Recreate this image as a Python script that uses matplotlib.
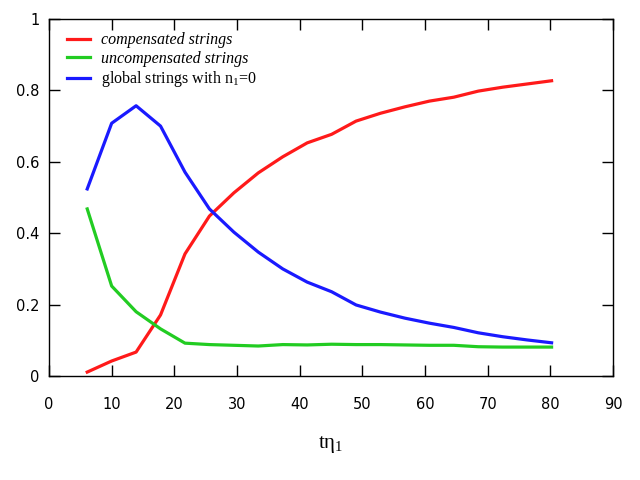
import matplotlib
matplotlib.use("Agg")
import matplotlib.pyplot as plt

# data
t_eta = [6.1, 10.0, 13.9, 17.8, 21.7, 25.6, 29.5, 33.4, 37.3, 41.2,
         45.1, 49.0, 52.9, 56.8, 60.7, 64.6, 68.5, 72.4, 76.3, 80.2]
compensated = [0.011, 0.042, 0.067, 0.171, 0.342, 0.448, 0.513, 0.569, 0.614, 0.653,
               0.677, 0.714, 0.736, 0.754, 0.770, 0.781, 0.798, 0.809, 0.818, 0.827]
uncompensated = [0.468, 0.252, 0.180, 0.132, 0.092, 0.088, 0.086, 0.084, 0.088, 0.087,
                 0.089, 0.088, 0.088, 0.087, 0.086, 0.086, 0.082, 0.081, 0.081, 0.081]
global_n1 = [0.524, 0.708, 0.757, 0.700, 0.571, 0.468, 0.403, 0.347, 0.300, 0.263,
             0.236, 0.199, 0.179, 0.162, 0.148, 0.136, 0.121, 0.110, 0.101, 0.093]

xticks = list(range(0, 91, 10))
yticks = [0, 0.2, 0.4, 0.6, 0.8, 1]
ytick_labels = ["0", "0.2", "0.4", "0.6", "0.8", "1"]

plt.rcParams["mathtext.fontset"] = "custom"
plt.rcParams["mathtext.rm"] = "Liberation Serif"

fig = plt.figure(figsize=(6.4, 4.8), dpi=100)
ax = fig.add_axes([49 / 640, 104 / 480, 564 / 640, 357 / 480])

ax.plot(t_eta, compensated, color="#ff1a1a", lw=2.3, label="compensated strings")
ax.plot(t_eta, uncompensated, color="#22cc22", lw=2.3, label="uncompensated strings")
ax.plot(t_eta, global_n1, color="#1a1aff", lw=2.3, label="global strings with n$_1$=0")

ax.set_xlim(0, 90)
ax.set_ylim(0, 1)
ax.set_xticks(xticks)
ax.set_yticks(yticks)
ax.set_yticklabels(ytick_labels)
ax.tick_params(direction="in", length=8, width=1, top=True, right=True,
               labelsize=10.5)
ax.tick_params(axis="x", pad=15)
ax.tick_params(axis="y", pad=7)
for s in ax.spines.values():
    s.set_linewidth(1)

ax.set_xlabel("tη$_1$", family="Liberation Serif", fontsize=15, labelpad=16)

leg = ax.legend(loc="upper left", frameon=False, handlelength=1.45,
                handletextpad=0.7, labelspacing=0.15, borderaxespad=0.0,
                borderpad=0.5, bbox_to_anchor=(0.0174, 0.985),
                prop={"family": "Liberation Serif", "size": 11.5})
texts = leg.get_texts()
texts[0].set_fontstyle("italic")
texts[1].set_fontstyle("italic")

fig.savefig("out.png", dpi=100)
